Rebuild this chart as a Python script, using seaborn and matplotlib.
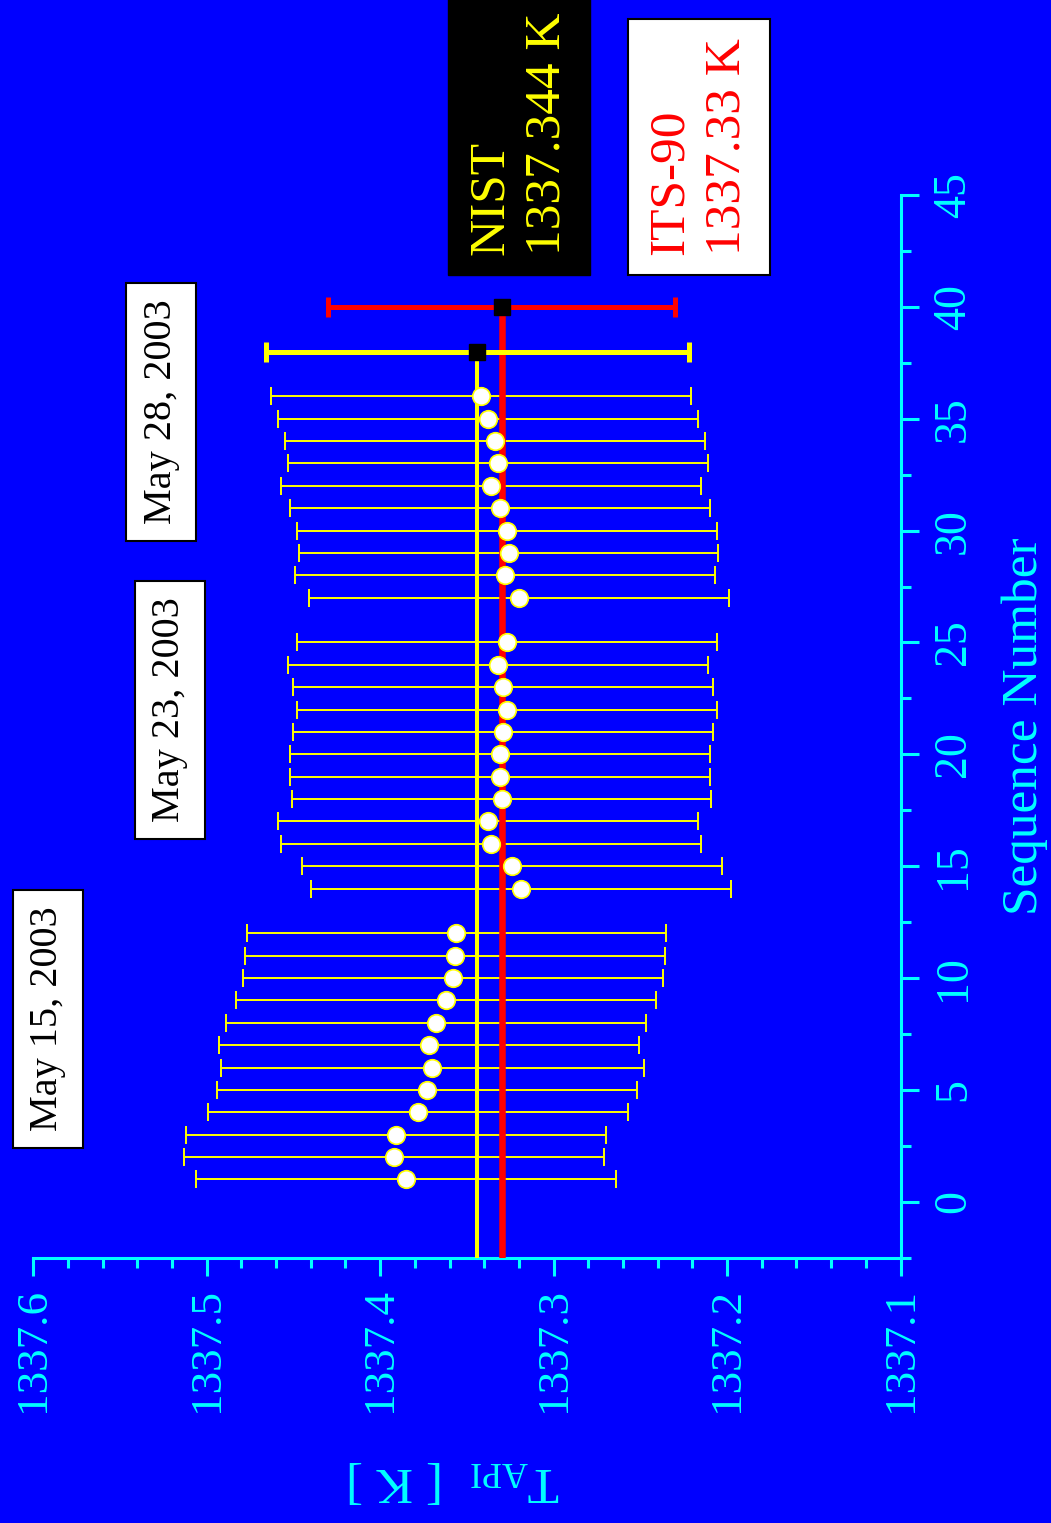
import numpy as np
import pandas as pd
import matplotlib
matplotlib.use("Agg")
import matplotlib.pyplot as plt
import seaborn as sns
from matplotlib.ticker import FixedLocator, MultipleLocator, FormatStrFormatter

# ---------------- data ----------------
seq = [1, 2, 3, 4, 5, 6, 7, 8, 9, 10, 11, 12,
       14, 15, 16, 17, 18, 19, 20, 21, 22, 23, 24, 25,
       27, 28, 29, 30, 31, 32, 33, 34, 35, 36]
temp = [1337.385, 1337.392, 1337.391, 1337.378, 1337.373, 1337.370, 1337.372,
        1337.368, 1337.362, 1337.358, 1337.357, 1337.356,
        1337.319, 1337.324, 1337.336, 1337.338, 1337.330, 1337.331, 1337.331,
        1337.329, 1337.327, 1337.329, 1337.332, 1337.327,
        1337.320, 1337.328, 1337.326, 1337.327, 1337.331, 1337.336, 1337.332,
        1337.334, 1337.338, 1337.342]
temp_err = [0.121, 0.121, 0.121, 0.121, 0.121, 0.122, 0.121, 0.121, 0.121, 0.121,
            0.121, 0.121, 0.121, 0.121, 0.121, 0.121, 0.121, 0.121, 0.121, 0.121,
            0.121, 0.121, 0.121, 0.121, 0.121, 0.121, 0.121, 0.121, 0.121, 0.121,
            0.121, 0.121, 0.121, 0.121]

nist_seq = 38
nist_value = 1337.344
nist_err = 0.122
its_seq = 40
its_value = 1337.33
its_err = 0.100

date_labels = ["May 15, 2003", "May 23, 2003", "May 28, 2003"]
nist_label = "NIST\n1337.344 K"
its_label = "ITS-90\n1337.33 K"
temp_ticks = [1337.1, 1337.2, 1337.3, 1337.4, 1337.5, 1337.6]
seq_ticks = [0, 5, 10, 15, 20, 25, 30, 35, 40, 45]
xlabel_text = "Sequence Number"
ylabel_text = r"T$_{\mathrm{API}}$  [ K ]"

# ---------------- style ----------------
BLUE = "#0000FF"
CYAN = "#00FFFF"
YELLOW = "#FFFF00"
RED = "#FF0000"

sns.set_style("ticks")
plt.rcParams["font.family"] = ["Liberation Serif", "DejaVu Serif"]
plt.rcParams["mathtext.fontset"] = "custom"
plt.rcParams["mathtext.rm"] = "Liberation Serif"
plt.rcParams["mathtext.it"] = "Liberation Serif:italic"
plt.rcParams["mathtext.bf"] = "Liberation Serif:bold"

W, H = 1051, 1523
fig = plt.figure(figsize=(W / 100, H / 100), dpi=100, facecolor=BLUE)
ax = fig.add_axes([33.3 / W, 1 - 1257.7 / H, (900.5 - 33.3) / W, (1257.7 - 195.0) / H])
ax.set_facecolor(BLUE)
ax.set_xlim(temp_ticks[-1], temp_ticks[0])
ax.set_ylim(-2.5, seq_ticks[-1])
ybottom = ax.get_ylim()[0]

df = pd.DataFrame({"seq": seq, "temp": temp, "err": temp_err})

# thin error bars of the measurements
ax.errorbar(df["temp"], df["seq"], xerr=df["err"], fmt="none", ecolor=YELLOW,
            elinewidth=1.4, capsize=6.7, capthick=1.4, zorder=2)

# reference lines
ax.vlines(nist_value, ybottom, nist_seq, colors=YELLOW, linewidth=2.9, zorder=3)
ax.vlines(its_value, ybottom, its_seq, colors=RED, linewidth=4.7, zorder=3)

# reference error bars
ax.errorbar([nist_value], [nist_seq], xerr=[nist_err], fmt="none", ecolor=YELLOW,
            elinewidth=3.6, capsize=7.5, capthick=3.6, zorder=4)
ax.errorbar([its_value], [its_seq], xerr=[its_err], fmt="none", ecolor=RED,
            elinewidth=3.6, capsize=7.5, capthick=3.6, zorder=4)
ax.plot([nist_value, its_value], [nist_seq, its_seq], ls="none", marker="s",
        ms=11.5, mfc="black", mec="black", zorder=5)

# measurement points
sns.scatterplot(data=df, x="temp", y="seq", ax=ax, s=160, color="white",
                edgecolor=YELLOW, linewidth=1.2, zorder=6, legend=False)
ax.set_xlabel("")
ax.set_ylabel("")

# spines
for side in ["left", "top"]:
    ax.spines[side].set_visible(False)
for side in ["bottom", "right"]:
    ax.spines[side].set_visible(True)
    ax.spines[side].set_color(CYAN)
    ax.spines[side].set_linewidth(2.2)

# temperature axis (bottom)
ax.xaxis.set_major_locator(FixedLocator(temp_ticks))
ax.xaxis.set_minor_locator(MultipleLocator(0.02))
ax.xaxis.set_major_formatter(FormatStrFormatter("%.1f"))
ax.tick_params(axis="x", which="both", direction="out", color=CYAN, width=2.2,
               labelcolor=CYAN, labelsize=32.5, pad=9, bottom=True, top=False)
ax.tick_params(axis="x", which="major", length=13)
ax.tick_params(axis="x", which="minor", length=7)
for lab in ax.get_xticklabels():
    lab.set_rotation(90)

# sequence axis (right)
ax.yaxis.tick_right()
ax.yaxis.set_major_locator(FixedLocator(seq_ticks))
ax.yaxis.set_minor_locator(MultipleLocator(2.5))
ax.tick_params(axis="y", which="both", direction="out", color=CYAN, width=2.2,
               labelcolor=CYAN, labelsize=33, pad=10, left=False, right=True,
               labelleft=False, labelright=True)
ax.tick_params(axis="y", which="major", length=13)
ax.tick_params(axis="y", which="minor", length=7)
ax.set_yticks(seq_ticks)
ax.set_yticklabels([str(t) for t in seq_ticks], rotation=90, va="center")

# axis titles
fig.text(1025 / W, 1 - 726 / H, xlabel_text, rotation=90, ha="center", va="center",
         fontsize=37, color=CYAN)
fig.text(454 / W, 1 - 1480 / H, ylabel_text, rotation=180, ha="center", va="center",
         fontsize=37, color=CYAN)

# date boxes
date_pos = [(48, 1019), (170, 710), (161, 412)]
for lab, (px, py) in zip(date_labels, date_pos):
    fig.text(px / W, 1 - py / H, lab, rotation=90, ha="center", va="center",
             fontsize=29, color="black",
             bbox=dict(boxstyle="square,pad=0.42", fc="white", ec="black", lw=1.5))

# NIST / ITS-90 boxes
fig.text(519 / W, 1 - 134 / H, nist_label, rotation=90, ha="center", va="center",
         multialignment="left", fontsize=37, color=YELLOW, linespacing=1.3,
         bbox=dict(boxstyle="square,pad=0.38", fc="black", ec="black", lw=1))
fig.text(699 / W, 1 - 147 / H, its_label, rotation=90, ha="center", va="center",
         multialignment="left", fontsize=37, color=RED, linespacing=1.3,
         bbox=dict(boxstyle="square,pad=0.38", fc="white", ec="black", lw=1.5))

fig.savefig("out.png", dpi=100, facecolor=BLUE)
